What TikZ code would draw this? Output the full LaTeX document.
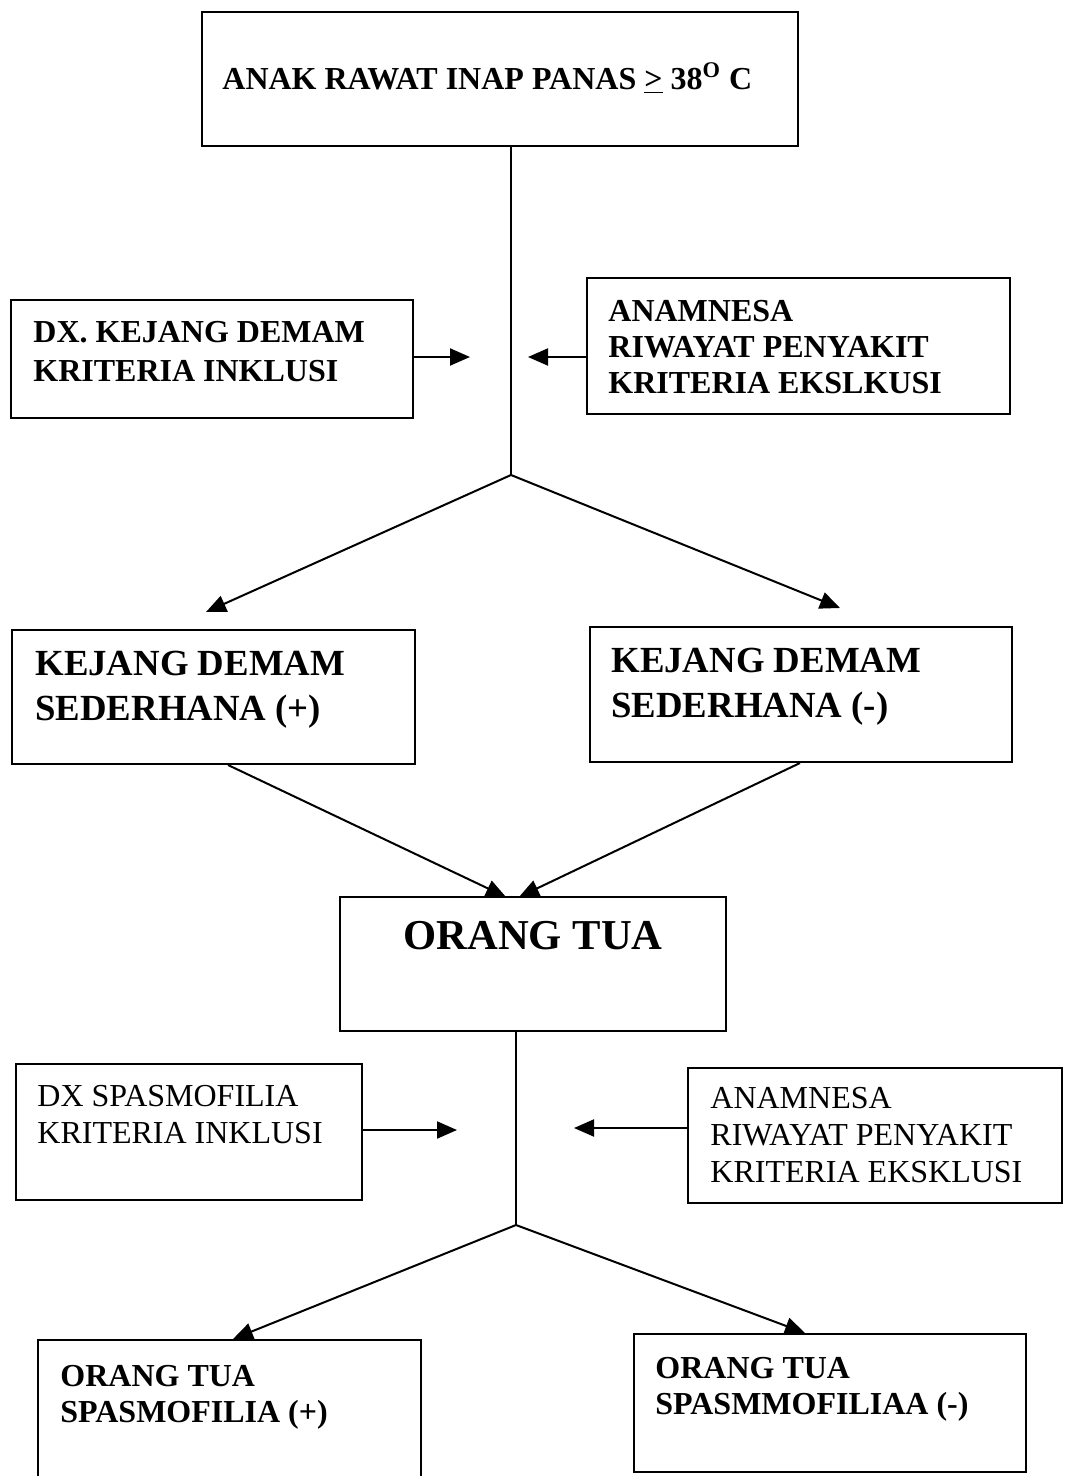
\documentclass[tikz,border=0pt]{standalone}
\usepackage{fontspec}
\setmainfont{Liberation Serif}
\usetikzlibrary{fit,arrows.meta}
\begin{document}
\begin{tikzpicture}[x=0.5pt,y=-0.5pt,
 box/.style={draw, line width=1pt, inner sep=0pt, rectangle},
 txt/.style={inner sep=0pt, align=left, anchor=north west},
 bb/.style={font=\bfseries\fontsize{16}{18}\selectfont},
 rr/.style={font=\fontsize{16}{18.5}\selectfont},
 big/.style={font=\bfseries\fontsize{18.4}{22.5}\selectfont},
 conn/.style={line width=1pt},
 arr/.style={line width=1pt, -{Triangle[length=10pt,width=8.5pt]}},
]
\fill[white] (0,0) rectangle (1065,1476);
\clip (0,0) rectangle (1065,1476);
% boxes
\node[box, fit={(202,12) (798,146)}] (top) {};
\node[box, fit={(11,300) (413,418)}] (dx1) {};
\node[box, fit={(587,278) (1010,414)}] (an1) {};
\node[box, fit={(12,630) (415,764)}] (kp) {};
\node[box, fit={(590,627) (1012,762)}] (km) {};
\node[box, fit={(340,897) (726,1031)}] (ot) {};
\node[box, fit={(16,1064) (362,1200)}] (dx2) {};
\node[box, fit={(688,1068) (1062,1203)}] (an2) {};
\node[box, fit={(38,1340) (421,1490)}] (op) {};
\node[box, fit={(634,1334) (1026,1472)}] (om) {};
% texts
\node[inner sep=0pt, anchor=base west, bb] (ttop) at (222,90) {ANAK RAWAT INAP PANAS \underline{>} 38\textsuperscript{O} C};
\node[txt, font=\bfseries\fontsize{16}{19.5}\selectfont] (tdx1) at (33,321) {DX. KEJANG DEMAM\\KRITERIA INKLUSI};
\node[txt, bb] (tan1) at (608,300) {ANAMNESA\\RIWAYAT PENYAKIT\\KRITERIA EKSLKUSI};
\node[txt, big] (tkp) at (35,651) {KEJANG DEMAM\\SEDERHANA (+)};
\node[txt, big] (tkm) at (611,648) {KEJANG DEMAM\\SEDERHANA (-)};
\node[inner sep=0pt, anchor=base, font=\bfseries\fontsize{21.3}{24}\selectfont] (tot) at (533,949) {ORANG TUA};
\node[txt, rr] (tdx2) at (37,1085) {DX SPASMOFILIA\\KRITERIA INKLUSI};
\node[txt, rr] (tan2) at (710,1087) {ANAMNESA\\RIWAYAT PENYAKIT\\KRITERIA EKSKLUSI};
\node[txt, bb] (top1) at (60,1365) {ORANG TUA\\SPASMOFILIA (+)};
\node[txt, bb] (tom) at (655,1357) {ORANG TUA\\SPASMMOFILIAA (-)};
% junctions and free ends
\coordinate (j1) at (511,475);
\coordinate (j2) at (516,1225);
\coordinate (e1) at (470,357);
\coordinate (e2) at (528,357);
\coordinate (e3) at (206,612);
\coordinate (e4) at (840,608);
\coordinate (e5) at (457,1130);
\coordinate (e6) at (574,1128);
% connectors
\draw[conn] (top.south -| j1) -- (j1);
\draw[arr] (dx1.east |- e1) -- (e1);
\draw[arr] (an1.west |- e2) -- (e2);
\draw[arr] (j1) -- (e3);
\draw[arr] (j1) -- (e4);
\draw[arr] (kp.south -| 228,0) -- (506,897);
\draw[arr] (km.south -| 800,0) -- (519,897);
\draw[conn] (ot.south -| j2) -- (j2);
\draw[arr] (dx2.east |- e5) -- (e5);
\draw[arr] (an2.west |- e6) -- (e6);
\draw[arr] (j2) -- (op.north -| 233,0);
\draw[arr] (j2) -- (om.north -| 805,0);
\end{tikzpicture}
\end{document}
